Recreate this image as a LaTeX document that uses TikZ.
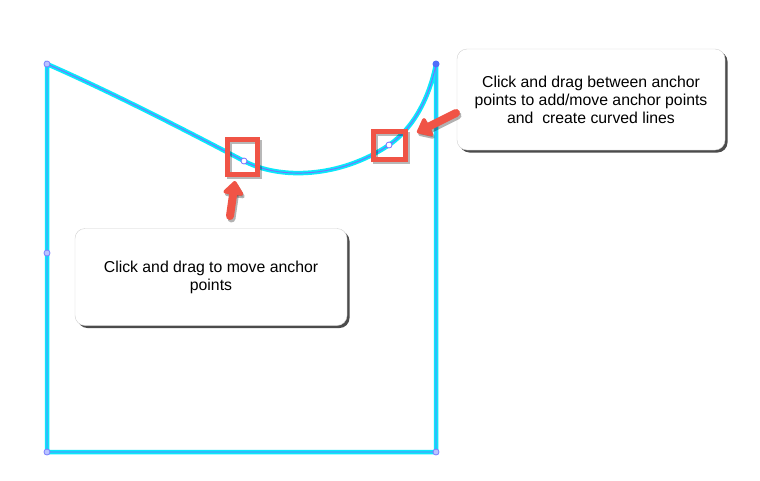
\documentclass[tikz,border=0pt]{standalone}
\usepackage{fontspec}
\setmainfont{Liberation Sans}
\usetikzlibrary{shadows,arrows.meta}
\definecolor{cyanline}{RGB}{10,232,250}
\definecolor{selline}{RGB}{120,110,255}
\definecolor{redbox}{RGB}{240,84,70}
\definecolor{vtx}{RGB}{125,125,255}
\definecolor{vtxfill}{RGB}{185,195,255}
\definecolor{topdot}{RGB}{80,110,250}
\tikzset{
  callout/.style={draw=black!18, fill=white, rounded corners=10pt, align=center,
    font=\fontsize{15.8}{18}\selectfont, inner sep=0pt,
    drop shadow={shadow xshift=2.5pt, shadow yshift=-2.5pt, fill=black, opacity=0.7}},
  hilite/.style={draw=redbox, line width=4.5pt, inner sep=0pt},
  hiliteshadow/.style={draw=black, opacity=0.28, line width=4.5pt, inner sep=0pt},
  fatarrow/.style={draw=redbox, line width=8pt, line cap=round,
    -{Triangle[length=15pt,width=23pt,round]}},
  fatshadow/.style={draw=black, opacity=0.3, line width=8pt, line cap=round,
    -{Triangle[length=15pt,width=23pt,round]}},
  vtxmark/.style={circle, draw=vtx, fill=vtxfill, line width=0.8pt, minimum size=6pt, inner sep=0pt},
  topmark/.style={circle, fill=topdot, minimum size=7pt, inner sep=0pt},
  anchormark/.style={circle, draw=selline, fill=white, line width=0.8pt, minimum size=6pt, inner sep=0pt},
}
\begin{document}
\begin{tikzpicture}[x=1pt,y=-1pt]
\useasboundingbox[fill=white] (0,0) rectangle (760,480);
% shape corners and anchor points
\coordinate (tl) at (47,64);
\coordinate (ml) at (47,253);
\coordinate (bl) at (47,452);
\coordinate (br) at (436,452);
\coordinate (tr) at (436,64);
\coordinate (p1) at (244,161);
\coordinate (p2) at (389,145);
% the shape outline
\foreach \w/\c in {4.5pt/cyanline, 0.9pt/selline}{
  \draw[line width=\w, draw=\c, line join=miter]
    (tl) .. controls (120,96) and (200,138) .. (p1)
         .. controls (280,180) and (340,178) .. (p2)
         .. controls (415,127) and (430,95) .. (tr)
    -- (br) -- (bl) -- cycle;
}
% vertex markers
\node[vtxmark] (vtl) at (tl) {};
\node[vtxmark] (vml) at (ml) {};
\node[vtxmark] (vbl) at (bl) {};
\node[vtxmark] (vbr) at (br) {};
\node[topmark] (vtr) at (tr) {};
\node[anchormark] (a1) at (p1) {};
\node[anchormark] (a2) at (p2) {};
% highlight boxes
\node[hiliteshadow, minimum width=30pt, minimum height=35pt] (s1) at (244.5,159.5) {};
\node[hilite, minimum width=30pt, minimum height=35pt] (h1) at (242.5,157) {};
\node[hiliteshadow, minimum width=32pt, minimum height=28pt] (s2) at (391.5,148) {};
\node[hilite, minimum width=32pt, minimum height=28pt] (h2) at (389.5,145.5) {};
% callouts
\node[callout, minimum width=272pt, minimum height=97pt] (c1) at (211,277)
  {Click and drag to move anchor\\points};
\node[callout, minimum width=268pt, minimum height=101pt] (c2) at (591,99.5)
  {Click and drag between anchor\\points to add/move anchor points\\and\ \ create curved lines};
% arrows
\coordinate (t1) at (230,216);
\coordinate (k1) at (235,181);
\coordinate (t2) at (456,113);
\coordinate (k2) at (417,132.5);
\draw[fatshadow] ([shift={(1.5,2.5)}]t1) -- ([shift={(1.5,2.5)}]k1);
\draw[fatshadow] ([shift={(1.5,2.5)}]t2) -- ([shift={(1.5,2.5)}]k2);
\draw[fatarrow] (t1) -- (k1);
\draw[fatarrow] (t2) -- (k2);
\end{tikzpicture}
\end{document}
